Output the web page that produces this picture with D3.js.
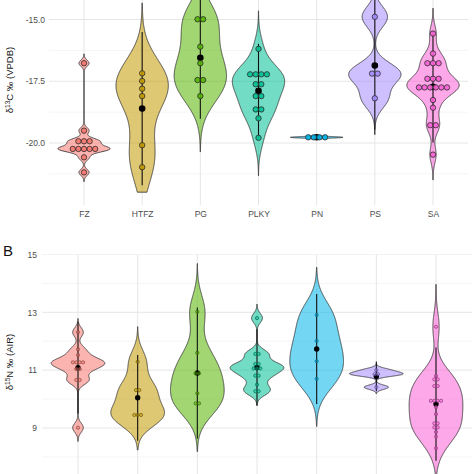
<!DOCTYPE html>
<html><head><meta charset="utf-8">
<script src="https://cdn.jsdelivr.net/npm/d3@7"></script>
<style>body{margin:0;background:#fff}svg{display:block}</style>
</head><body><svg id="c" width="474" height="474"></svg>
<script>
// ---------- data ----------
const categories = ["FZ","HTFZ","PG","PLKY","PN","PS","SA"];
const palette = ["#F8766D","#C49A00","#53B400","#00C094","#00B6EB","#A58AFF","#FB61D7"];

// δ13C (‰ VPDB) per group
const c13_FZ   = [-16.77,-19.50,-19.93,-19.93,-19.93,-20.24,-20.24,-20.24,-20.24,-20.24,-20.58,-21.19];
const c13_HTFZ = [-17.18,-17.49,-17.80,-18.10,-20.09,-20.98];
const c13_PG   = [-14.99,-14.99,-16.10,-16.77,-17.45,-17.45,-18.10];
const c13_PLKY = [-16.19,-17.22,-17.22,-17.22,-17.22,-17.62,-17.62,-18.10,-18.10,-18.64,-18.64,-19.00,-19.79];
const c13_PN   = [-19.77,-19.77,-19.77,-19.77];
const c13_PS   = [-14.89,-17.19,-17.19,-18.19];
const c13_SA   = [-15.57,-16.38,-16.77,-16.77,-16.77,-17.40,-17.40,-17.40,-17.75,-17.75,-17.75,-17.75,-17.75,-17.75,-18.26,-18.57,-19.28,-19.28,-20.47];

// δ15N (‰ AIR) per group
const n15_FZ   = [12.31,11.72,11.52,11.27,11.27,11.27,11.27,11.04,11.04,10.66,10.66,9.01];
const n15_HTFZ = [11.29,10.31,10.31,9.45,9.45,9.45];
const n15_PG   = [13.02,11.60,10.89,10.89,10.20,9.85,9.85];
const n15_PLKY = [12.80,11.56,11.56,11.21,11.21,11.06,11.06,11.06,10.81,10.81,10.50,10.27,10.27];
const n15_PN   = [12.91,12.01,11.31,10.70];
const n15_PS   = [11.00,10.86,10.86,10.41];
const n15_SA   = [12.50,10.80,10.68,10.68,10.45,10.45,9.94,9.94,9.94,9.94,9.72,9.48,9.16,9.16,9.02,9.02,8.86,8.70,8.30];

const topTicks = [-15.0,-17.5,-20.0];
const topMinor = [-13.75,-16.25,-18.75,-21.25];
const botTicks = [9,11,13,15];
const botMinor = [8,10,12,14];
const topLowLimit = -22;

const c13 = [c13_FZ,c13_HTFZ,c13_PG,c13_PLKY,c13_PN,c13_PS,c13_SA];
const n15 = [n15_FZ,n15_HTFZ,n15_PG,n15_PLKY,n15_PN,n15_PS,n15_SA];

// ---------- helpers ----------
function bwNrd0(x){
  const s = x.slice().sort(d3.ascending);
  const sd = d3.deviation(s) || 0;
  const iqr = d3.quantileSorted(s,0.75) - d3.quantileSorted(s,0.25);
  let lo = Math.min(sd, iqr/1.34);
  if(!(lo>0)) lo = sd;
  if(!(lo>0)) return 0.03;
  return 0.9*lo*Math.pow(s.length,-0.2);
}
function violinProfile(vals, lowLimit){
  const bw = bwNrd0(vals);
  const lo = d3.min(vals)-3*bw, hi = d3.max(vals)+3*bw;
  const n = 512, pts = [];
  for(let i=0;i<n;i++){
    const v = lo + (hi-lo)*i/(n-1);
    let d = 0;
    for(const xi of vals){ const z=(v-xi)/bw; d += Math.exp(-0.5*z*z); }
    pts.push({v, d});
  }
  const m = d3.max(pts, p=>p.d);
  pts.forEach(p=>p.w = p.d/m);
  return pts.filter(p=>p.v >= lowLimit);
}
function stackDots(vals){
  const groups = d3.groups(vals, v=>v);
  const out = [];
  groups.forEach(([v, arr])=>{
    const k = arr.length;
    arr.forEach((_,i)=>out.push({v, off: i-(k-1)/2}));
  });
  return out;
}

const svg = d3.select("#c");
svg.append("rect").attr("width",474).attr("height",474).attr("fill","#fff");
const FONT = "'Liberation Sans', Arial, sans-serif";

function drawPanel(cfg){
  const x = d3.scalePoint().domain(categories).range(cfg.xr);
  const y = d3.scaleLinear().domain(cfg.yd).range(cfg.yr);
  const hw = 0.45*x.step();
  const cid = cfg.id+"-clip";
  svg.append("clipPath").attr("id",cid).append("rect")
    .attr("x",cfg.gx[0]).attr("y",cfg.py[0])
    .attr("width",cfg.gx[1]-cfg.gx[0]).attr("height",cfg.py[1]-cfg.py[0]);
  const g = svg.append("g").attr("clip-path",`url(#${cid})`);

  // grid
  g.selectAll(".mn").data(cfg.minor).join("line")
    .attr("x1",cfg.gx[0]).attr("x2",cfg.gx[1]).attr("y1",d=>y(d)).attr("y2",d=>y(d))
    .attr("stroke","#f1f1f1").attr("stroke-width",0.7);
  g.selectAll(".mj").data(cfg.ticks).join("line")
    .attr("x1",cfg.gx[0]).attr("x2",cfg.gx[1]).attr("y1",d=>y(d)).attr("y2",d=>y(d))
    .attr("stroke","#e6e6e6").attr("stroke-width",1);
  g.selectAll(".vx").data(categories).join("line")
    .attr("x1",d=>x(d)).attr("x2",d=>x(d)).attr("y1",cfg.py[0]).attr("y2",cfg.py[1])
    .attr("stroke","#e6e6e6").attr("stroke-width",1);

  // violins
  cfg.data.forEach((vals,i)=>{
    const cx = x(categories[i]);
    const prof = violinProfile(vals, cfg.low);
    const area = d3.area()
      .y(p=>y(p.v)).x0(p=>cx - p.w*hw).x1(p=>cx + p.w*hw);
    g.append("path").attr("d",area(prof))
      .attr("fill",palette[i]).attr("fill-opacity",0.55)
      .attr("stroke","#333").attr("stroke-width",0.85).attr("stroke-linejoin","round");
  });

  // mean ± 2 SD
  cfg.data.forEach((vals,i)=>{
    const cx = x(categories[i]);
    const m = d3.mean(vals), sd = d3.deviation(vals)||0;
    const lo = m-2*sd, hi = m+2*sd;
    if(lo < cfg.low) return;
    g.append("line").attr("x1",cx).attr("x2",cx).attr("y1",y(hi)).attr("y2",y(lo))
      .attr("stroke","#111").attr("stroke-width",1.1);
    g.append("circle").attr("cx",cx).attr("cy",y(m)).attr("r",cfg.meanR).attr("fill","#000");
  });

  // dots
  cfg.data.forEach((vals,i)=>{
    const cx = x(categories[i]);
    g.selectAll(null).data(stackDots(vals)).join("circle")
      .attr("cx",d=>cx + d.off*cfg.step).attr("cy",d=>y(d.v)).attr("r",cfg.dotR)
      .attr("fill",palette[i]).attr("fill-opacity",cfg.dotOp)
      .attr("stroke",cfg.dotStroke(palette[i])).attr("stroke-width",cfg.dotSW);
  });

  // y axis
  const ax = svg.append("g").attr("transform",`translate(${cfg.gx[0]},0)`)
    .call(d3.axisLeft(y).tickValues(cfg.ticks).tickSize(0).tickPadding(cfg.pad).tickFormat(cfg.fmt));
  ax.select(".domain").remove();
  ax.selectAll("text").attr("font-family",FONT).attr("font-size",8.5).attr("fill","#4d4d4d");

  if(cfg.xAxisY !== null){
    const bx = svg.append("g").attr("transform",`translate(0,${cfg.xAxisY})`)
      .call(d3.axisBottom(x).tickSize(0).tickPadding(6));
    bx.select(".domain").remove();
    bx.selectAll("text").attr("font-family",FONT).attr("font-size",8.5).attr("fill","#4d4d4d");
  }
}

drawPanel({
  id:"top", data:c13, xr:[84,433], yd:[-20,-15], yr:[143,19.5],
  gx:[49,468], py:[-60,205], ticks:topTicks, minor:topMinor, low:topLowLimit,
  fmt:d=>d.toFixed(1), pad:4, dotR:2.7, step:5.6, meanR:3.3, dotOp:0.9,
  dotStroke:()=>"#2a2a2a", dotSW:0.8, xAxisY:205
});
drawPanel({
  id:"bot", data:n15, xr:[78,436], yd:[9,13], yr:[428,312.3],
  gx:[42,472], py:[254.4,480], ticks:botTicks, minor:botMinor, low:-Infinity,
  fmt:d=>String(d), pad:5, dotR:1.6, step:3.4, meanR:2.7, dotOp:0.5,
  dotStroke:c=>d3.color(c).darker(1.6).formatHex(), dotSW:0.7, xAxisY:null
});

// axis titles
function yTitle(cx, cy, iso, tail){
  const t = svg.append("text").attr("transform",`translate(${cx},${cy}) rotate(-90)`)
    .attr("text-anchor","middle").attr("font-family",FONT).attr("font-size",9.5).attr("fill","#222");
  t.append("tspan").text("δ");
  t.append("tspan").attr("font-size",6.5).attr("dy",-3.5).text(iso);
  t.append("tspan").attr("dy",3.5).text(tail);
}
yTitle(13, 80, "13", "C ‰ (VPDB)");
yTitle(13, 362, "15", "N ‰ (AIR)");

svg.append("text").attr("x",3).attr("y",256).attr("font-family",FONT)
  .attr("font-size",15).attr("fill","#111").text("B");
</script></body></html>
